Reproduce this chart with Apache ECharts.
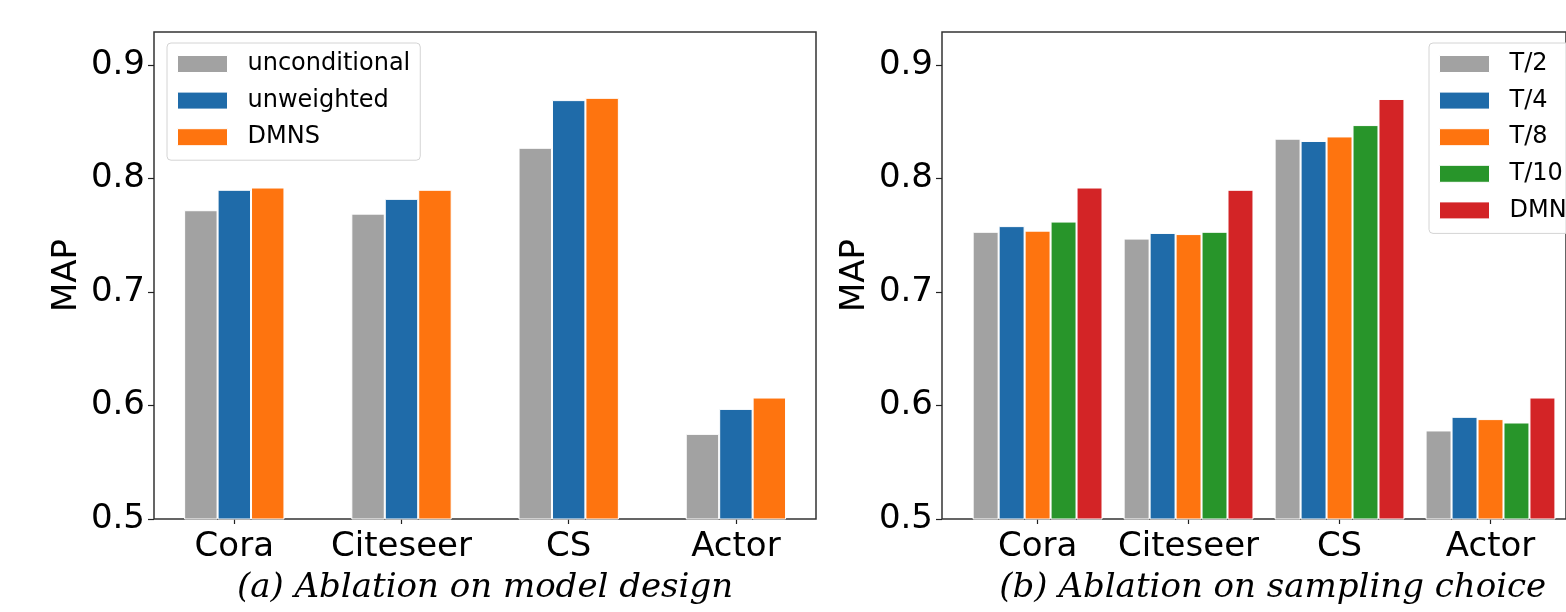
<!DOCTYPE html>
<html>
<head>
<meta charset="utf-8">
<script src="https://cdn.jsdelivr.net/npm/echarts@6/dist/echarts.min.js"></script>
<style>
  html, body { margin: 0; padding: 0; background: #fff; }
  #chart { width: 1566px; height: 612px; }
</style>
</head>
<body>
<div id="chart"></div>
<script>
// ---- data ----
const categories = ['Cora', 'Citeseer', 'CS', 'Actor'];
const designNames = ['unconditional', 'unweighted', 'DMNS'];
const unconditional = [0.772, 0.769, 0.827, 0.575];
const unweighted    = [0.790, 0.782, 0.869, 0.597];
const dmnsDesign    = [0.792, 0.790, 0.871, 0.607];

const samplingNames = ['T/2', 'T/4', 'T/8', 'T/10', 'DMNS'];
const tHalf   = [0.753, 0.747, 0.835, 0.578];
const tQuart  = [0.758, 0.752, 0.833, 0.590];
const tEighth = [0.754, 0.751, 0.837, 0.588];
const tTenth  = [0.762, 0.753, 0.847, 0.585];
const dmnsSampling = [0.792, 0.790, 0.870, 0.607];

const yTicks = [0.5, 0.6, 0.7, 0.8, 0.9];
const yMin = 0.5, yMax = 0.929;

const captionA = '(a) Ablation on model design';
const captionB = '(b) Ablation on sampling choice';
const yName = 'MAP';

// ---- styles ----
const C_GRAY = '#a2a2a2', C_BLUE = '#1f6ba9', C_ORANGE = '#fe740f', C_GREEN = '#28952a', C_RED = '#d32426';
const designColors = [C_GRAY, C_BLUE, C_ORANGE];
const samplingColors = [C_GRAY, C_BLUE, C_ORANGE, C_GREEN, C_RED];
const designData = [unconditional, unweighted, dmnsDesign];
const samplingData = [tHalf, tQuart, tEighth, tTenth, dmnsSampling];

const FONT = 'DejaVu Sans';
const TICK_FS = 34;
const TOP = 32, BOTTOM_Y = 519, H = BOTTOM_Y - TOP;

function frameYAxis(gridIndex) {
  return {
    type: 'value', gridIndex, min: yMin, max: yMax,
    axisLine: { show: false },
    splitLine: { show: false },
    axisTick: { show: true, length: 6, lineStyle: { color: '#222', width: 1.2 }, customValues: yTicks },
    axisLabel: { fontFamily: FONT, fontSize: TICK_FS, color: '#000', margin: 9,
                 customValues: yTicks, formatter: v => v.toFixed(1) },
    name: yName, nameLocation: 'middle', nameGap: 70,
    nameTextStyle: { fontFamily: FONT, fontSize: TICK_FS, color: '#000' }
  };
}
function hiddenY(gridIndex) {
  return { type: 'value', gridIndex, min: yMin, max: yMax, show: false };
}
function catX(gridIndex) {
  return {
    type: 'category', gridIndex, data: categories,
    axisLine: { show: false },
    axisTick: { show: true, alignWithLabel: true, length: 5, lineStyle: { color: '#222', width: 1.2 } },
    axisLabel: { fontFamily: FONT, fontSize: TICK_FS, color: '#000', margin: 11, interval: 0, hideOverlap: false }
  };
}
function legendCfg(left, names, colors) {
  return {
    left, top: 43, orient: 'vertical', icon: 'rect',
    itemWidth: 50, itemHeight: 17, itemGap: 12.6,
    padding: [9, 10, 11, 10],
    backgroundColor: 'rgba(255,255,255,0.85)',
    borderColor: '#d4d4d4', borderWidth: 1, borderRadius: 4,
    textStyle: { fontFamily: FONT, fontSize: 24, color: '#000', padding: [0, 0, 0, 15] },
    data: names.map((n, i) => ({ name: n, itemStyle: { color: colors[i], borderColor: '#fff', borderWidth: 1 } }))
  };
}

const series = [];
designNames.forEach((n, i) => series.push({
  type: 'bar', name: n, xAxisIndex: 1, yAxisIndex: 1, data: designData[i],
  barWidth: '20%', barGap: '0%',
  itemStyle: { color: designColors[i], borderColor: '#fff', borderWidth: 1 }
}));
samplingNames.forEach((n, i) => series.push({
  type: 'bar', name: n, xAxisIndex: 3, yAxisIndex: 3, data: samplingData[i],
  barWidth: '17.2%', barGap: '0%',
  itemStyle: { color: samplingColors[i], borderColor: '#fff', borderWidth: 1 }
}));

const chart = echarts.init(document.getElementById('chart'), null, { renderer: 'canvas' });
chart.setOption({
  animation: false,
  backgroundColor: '#fff',
  grid: [
    { left: 154, top: TOP, width: 662, height: H, show: true, borderColor: '#333', borderWidth: 1.5, backgroundColor: 'transparent' },
    { left: 150.7, top: TOP, width: 668.8, height: H },
    { left: 942, top: TOP, width: 661.5, height: H, show: true, borderColor: '#333', borderWidth: 1.5, backgroundColor: 'transparent' },
    { left: 962.1, top: TOP, width: 623.2, height: H }
  ],
  xAxis: [
    { type: 'value', gridIndex: 0, min: 0, max: 1, show: false },
    catX(1),
    { type: 'value', gridIndex: 2, min: 0, max: 1, show: false },
    catX(3)
  ],
  yAxis: [frameYAxis(0), hiddenY(1), frameYAxis(2), hiddenY(3)],
  legend: [
    legendCfg(167, designNames, designColors),
    legendCfg(1429, samplingNames, samplingColors)
  ],
  graphic: [
    { type: 'text', x: 485, y: 588, style: { text: captionA, fontFamily: 'DejaVu Serif', fontStyle: 'italic', fontSize: 34, fill: '#000', align: 'center', verticalAlign: 'middle' } },
    { type: 'text', x: 1272.75, y: 588, style: { text: captionB, fontFamily: 'DejaVu Serif', fontStyle: 'italic', fontSize: 34, fill: '#000', align: 'center', verticalAlign: 'middle' } }
  ],
  series
});
</script>
</body>
</html>
